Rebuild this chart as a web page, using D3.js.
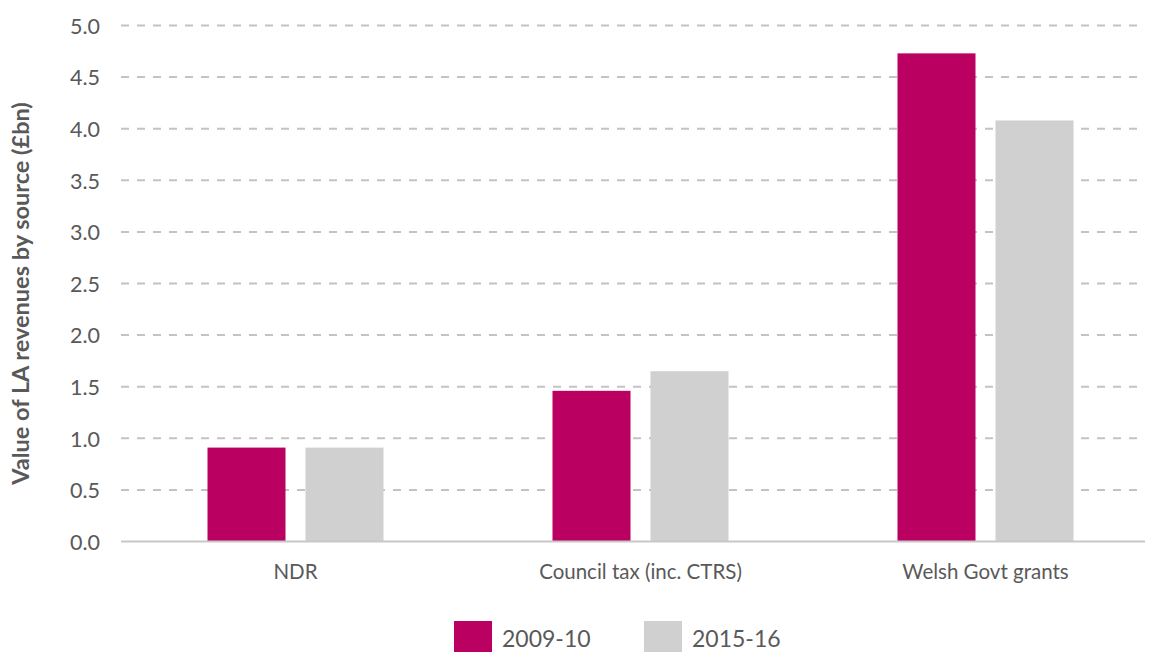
<!DOCTYPE html>
<html><head><meta charset="utf-8">
<script src="https://cdn.jsdelivr.net/npm/d3@7"></script>
<style>body{margin:0;background:#fff}</style>
</head><body>
<svg id="c" width="1151" height="652"></svg>
<script>
const categories = ["NDR", "Council tax (inc. CTRS)", "Welsh Govt grants"];
const series = ["2009-10", "2015-16"];
const values2009 = [0.91, 1.46, 4.73];
const values2015 = [0.91, 1.65, 4.08];
const yTicks = [0, 0.5, 1.0, 1.5, 2.0, 2.5, 3.0, 3.5, 4.0, 4.5, 5.0];
const colors = ["#BA0060", "#D0D0D0"];

(function () {
const font = "Lato, 'Open Sans', sans-serif";
const svg = d3.select("#c");
const pLeft = 121, pRight = 1145, pTop = 25.5, pBottom = 541.5;
const y = d3.scaleLinear().domain([0, 5]).range([pBottom, pTop]);
const x0 = d3.scaleBand().domain(categories).range([123, 1158]).paddingInner(0).paddingOuter(0);
const x1 = d3.scaleBand().domain(series).range([0, 176]).paddingInner(20/98).paddingOuter(0);

// grid
svg.append("g").selectAll("line").data(yTicks.filter(d => d > 0)).join("line")
  .attr("x1", pLeft).attr("x2", pRight)
  .attr("y1", d => y(d)).attr("y2", d => y(d))
  .attr("stroke", "#c3c3c3").attr("stroke-width", 2).attr("stroke-dasharray", "8,8");

// y axis labels
const yAxis = d3.axisLeft(y).tickValues(yTicks).tickFormat(d3.format(".1f")).tickSize(0).tickPadding(0);
const ya = svg.append("g").attr("transform", `translate(100,0)`).call(yAxis);
ya.select(".domain").remove();
ya.selectAll("text").attr("font-family", font).attr("font-size", 21.5).attr("fill", "#595959").attr("dy", "0.36em");

// bars
const data = categories.map((c, i) => ({cat: c, vals: [values2009[i], values2015[i]]}));
const grp = svg.append("g").selectAll("g").data(data).join("g")
  .attr("transform", d => `translate(${x0(d.cat) + (x0.bandwidth() - 176) / 2},0)`);
grp.selectAll("rect").data(d => d.vals.map((v, j) => ({s: series[j], v, j}))).join("rect")
  .attr("x", d => x1(d.s)).attr("width", x1.bandwidth())
  .attr("y", d => y(d.v)).attr("height", d => y(0) - y(d.v))
  .attr("fill", d => colors[d.j]);

// baseline
svg.append("line").attr("x1", pLeft).attr("x2", pRight).attr("y1", y(0)).attr("y2", y(0))
  .attr("stroke", "#c8c8c8").attr("stroke-width", 2);

// x labels
const xAxis = d3.axisBottom(x0).tickSize(0).tickPadding(0);
const xa = svg.append("g").attr("transform", `translate(0,${y(0)})`).call(xAxis);
xa.select(".domain").remove();
xa.selectAll("text").attr("font-family", font).attr("font-size", 20.5).attr("fill", "#595959").attr("dy", "1.85em");

// y title
svg.append("text").attr("transform", `translate(29,${(pTop + pBottom) / 2 + 10}) rotate(-90)`)
  .attr("text-anchor", "middle").attr("font-family", font).attr("font-weight", "bold")
  .attr("font-size", 23.5).attr("fill", "#595959").text("Value of LA revenues by source (£bn)");

// legend
const legX = [454, 644];
const leg = svg.append("g").selectAll("g").data(series).join("g")
  .attr("transform", (d, i) => `translate(${legX[i]},621)`);
leg.append("rect").attr("width", 38).attr("height", 32).attr("fill", (d, i) => colors[i]);
leg.append("text").attr("x", 48).attr("y", 26).attr("font-family", font).attr("font-size", 23)
  .attr("fill", "#595959").text(d => d);
})();
</script>
</body></html>
